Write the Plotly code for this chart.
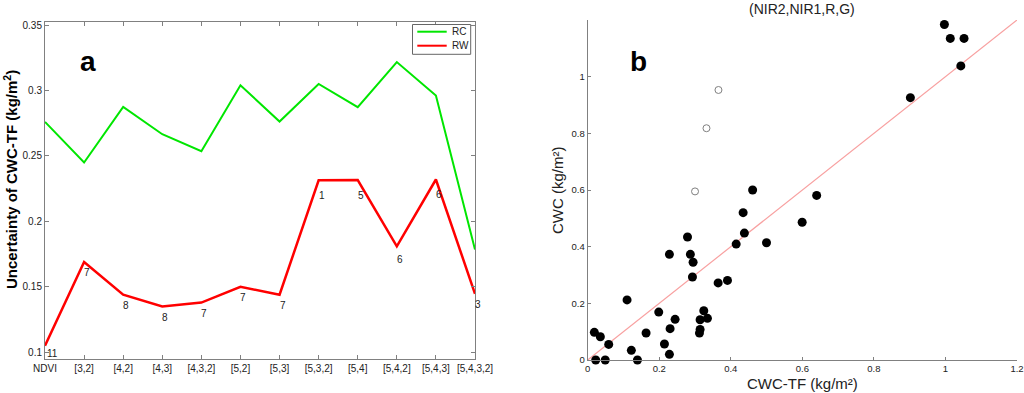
import plotly.graph_objects as go

# ---- Panel a data ----
combos = ["NDVI", "[3,2]", "[4,2]", "[4,3]", "[4,3,2]", "[5,2]", "[5,3]",
          "[5,3,2]", "[5,4]", "[5,4,2]", "[5,4,3]", "[5,4,3,2]"]
rc_vals = [0.276, 0.245, 0.2875, 0.2666, 0.2536, 0.304, 0.2763,
           0.305, 0.2873, 0.3217, 0.2962, 0.1785]
rw_vals = [0.105, 0.169, 0.144, 0.135, 0.138, 0.150, 0.144,
           0.2314, 0.2316, 0.181, 0.232, 0.1447]
rw_labels = ["11", "7", "8", "8", "7", "7", "7", "1", "5", "6", "6", "3"]
series_names = ["RC", "RW"]
series_colors = ["#00e600", "#ff0000"]

# ---- Panel b data ----
tf_filled = [0.997, 1.0135, 1.052, 1.043, 0.902, 0.461, 0.640,
             0.4345, 0.5995, 0.279, 0.438, 0.4998, 0.415, 0.2284, 0.287,
             0.2946, 0.2928, 0.3646, 0.3907, 0.110, 0.1986, 0.3245, 0.3142,
             0.3347, 0.2443, 0.1632, 0.2303, 0.3142, 0.3124, 0.0186, 0.0354,
             0.0587, 0.2145, 0.122, 0.2284, 0.0224, 0.049, 0.139]
cwc_filled = [1.184, 1.135, 1.135, 1.038, 0.926, 0.600, 0.581,
              0.520, 0.486, 0.434, 0.448, 0.414, 0.409, 0.373, 0.373,
              0.345, 0.293, 0.272, 0.281, 0.212, 0.169, 0.174, 0.142,
              0.147, 0.1435, 0.0953, 0.1106, 0.108, 0.095, 0.0976, 0.082,
              0.055, 0.0565, 0.034, 0.020, 0.0, 0.0, 0.0]
tf_open = [0.3655, 0.332, 0.300]
cwc_open = [0.953, 0.818, 0.595]
line_11 = [0, 1.2]

FONT = "Arial, Liberation Sans, sans-serif"
W, H = 1024, 393
AX = "#808080"

fig = go.Figure()
xs = list(range(len(combos)))

fig.add_trace(go.Scatter(x=xs, y=rc_vals, mode="lines", name=series_names[0],
                         line=dict(color=series_colors[0], width=2), xaxis="x", yaxis="y"))
fig.add_trace(go.Scatter(x=xs, y=rw_vals, mode="lines", name=series_names[1],
                         line=dict(color=series_colors[1], width=2.5), xaxis="x", yaxis="y"))

fig.add_trace(go.Scatter(x=line_11, y=line_11, mode="lines", showlegend=False,
                         line=dict(color="#f8a0a0", width=1.2), xaxis="x2", yaxis="y2"))
fig.add_trace(go.Scatter(x=tf_filled, y=cwc_filled, mode="markers", showlegend=False,
                         marker=dict(size=9, color="black"), xaxis="x2", yaxis="y2",
                         cliponaxis=False))
fig.add_trace(go.Scatter(x=tf_open, y=cwc_open, mode="markers", showlegend=False,
                         marker=dict(size=7, color="white", line=dict(color="#808080", width=1)),
                         xaxis="x2", yaxis="y2", cliponaxis=False))

def px(v):
    return v / W

def py(v):
    return (H - v) / H

def ann(text, x, y, size, color="#222", angle=0, xanchor="center"):
    return dict(text=text, x=px(x), y=py(y), xref="paper", yref="paper",
                xanchor=xanchor, yanchor="middle", textangle=angle,
                showarrow=False, font=dict(size=size, color=color, family=FONT))

# point labels on the RW curve (a bit lower under the high plateau points)
label_ann = [dict(text=t, x=xv, y=yv, xref="x", yref="y", xanchor="center",
                  yanchor="middle", xshift=3, yshift=(-15 if yv > 0.2 else -11),
                  showarrow=False, font=dict(size=10, color="#222", family=FONT))
             for t, xv, yv in zip(rw_labels, xs, rw_vals)]
label_ann[0]["xshift"] = 7
label_ann[0]["yshift"] = -8
label_ann[9]["yshift"] = -13

# custom legend box (MATLAB style)
shapes = [dict(type="rect", xref="paper", yref="paper", x0=px(412.5), x1=px(470.7),
               y0=py(54.3), y1=py(24.5), line=dict(color="#666", width=1),
               fillcolor="white", layer="above")]
legend_ann = []
for i, (nm, col) in enumerate(zip(series_names, series_colors)):
    yy = 31.7 + 14 * i
    shapes.append(dict(type="line", xref="paper", yref="paper", x0=px(417.3), x1=px(446.7),
                       y0=py(yy), y1=py(yy), line=dict(color=col, width=2), layer="above"))
    legend_ann.append(ann(nm, 449.5, yy, 10, "#222", xanchor="left"))

fig.update_layout(
    template="none", showlegend=False,
    width=W, height=H, margin=dict(l=0, r=0, t=0, b=0, pad=0, autoexpand=False),
    paper_bgcolor="white", plot_bgcolor="white",
    font=dict(family=FONT, size=10, color="#222"),
    xaxis=dict(domain=[px(45), px(475)], range=[0, 11], tickmode="array",
               tickvals=xs, ticktext=combos, ticks="inside", ticklen=4,
               tickcolor=AX, showline=True, linecolor=AX, linewidth=1, mirror="ticks",
               showgrid=False, zeroline=False, tickfont=dict(size=10), automargin=False),
    yaxis=dict(domain=[py(359), py(22)], range=[0.0949, 0.3523],
               tickvals=[0.1, 0.15, 0.2, 0.25, 0.3, 0.35],
               ticktext=["0.1", "0.15", "0.2", "0.25", "0.3", "0.35"],
               ticks="inside", ticklen=4, tickcolor=AX, showline=True, linecolor=AX,
               linewidth=1, mirror="ticks", showgrid=False, zeroline=False,
               tickfont=dict(size=10), automargin=False),
    xaxis2=dict(domain=[px(587.7), px(1017)], range=[0, 1.2], anchor="y2",
                tickvals=[0, 0.2, 0.4, 0.6, 0.8, 1, 1.2],
                ticktext=["0", "0.2", "0.4", "0.6", "0.8", "1", "1.2"],
                ticks="inside", ticklen=3, tickcolor=AX, showline=True, linecolor=AX,
                linewidth=1, showgrid=False, zeroline=False, tickfont=dict(size=9.5),
                automargin=False),
    yaxis2=dict(domain=[py(360), py(20)], range=[0, 1.2], anchor="x2",
                tickvals=[0, 0.2, 0.4, 0.6, 0.8, 1],
                ticktext=["0", "0.2", "0.4", "0.6", "0.8", "1"],
                ticks="inside", ticklen=3, tickcolor=AX, showline=True, linecolor=AX,
                linewidth=1, showgrid=False, zeroline=False, tickfont=dict(size=9.5),
                automargin=False),
    shapes=shapes,
    annotations=[
        ann("<b>Uncertainty of CWC-TF (kg/m<sup>2</sup>)</b>", 10, 180, 15, "black", -90),
        ann("<b>a</b>", 88, 62, 28, "black"),
        ann("<b>b</b>", 638, 62, 28, "black"),
        ann("(NIR2,NIR1,R,G)", 802, 9, 14),
        ann("CWC-TF (kg/m²)", 802, 383, 15),
        ann("CWC (kg/m²)", 558, 191, 15, angle=-90),
    ] + legend_ann + label_ann,
)

# remove the browser's default 8px body margin so the 1024x393 figure fills the window
fig.write_html("out.html", config={"displayModeBar": False},
               post_script="document.body.style.margin='0px';"
               "document.body.style.overflow='hidden';")
